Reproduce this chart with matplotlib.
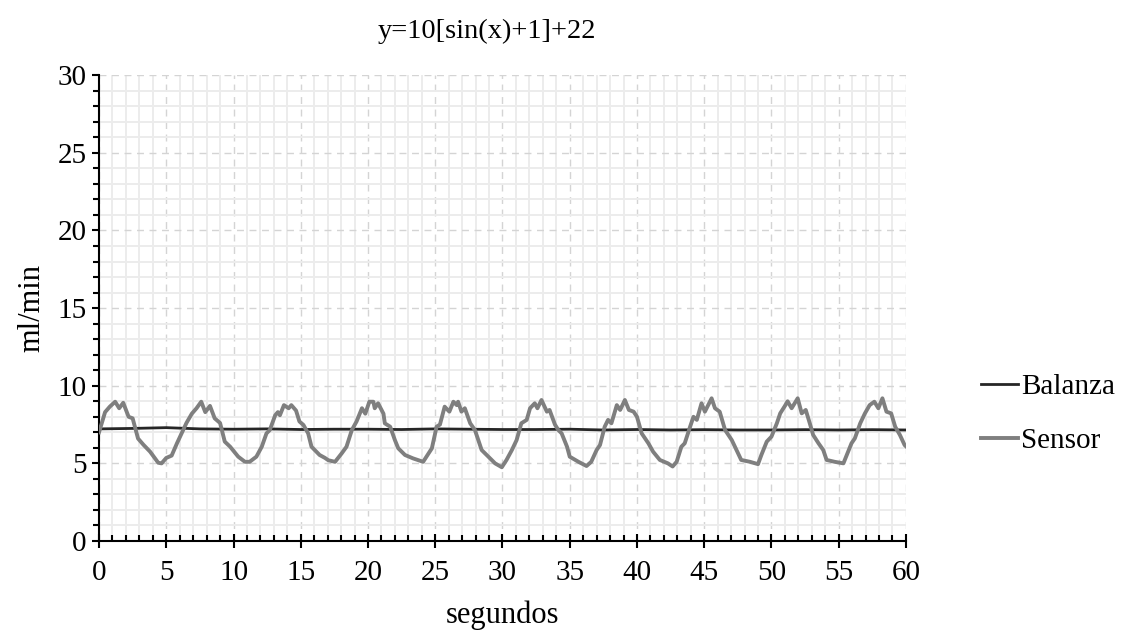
import matplotlib
matplotlib.use("Agg")
import matplotlib.pyplot as plt
from matplotlib.ticker import MultipleLocator

plt.rcParams['font.family'] = ['Liberation Serif', 'DejaVu Serif']

title = "y=10[sin(x)+1]+22"
x_label = "segundos"
y_label = "ml/min"

sensor_t = [0.0, 0.45, 0.8, 1.2, 1.5, 1.8, 2.2, 2.5, 2.9, 3.3, 3.8, 4.4, 4.65, 5.0, 5.4, 5.8,
            6.15, 6.5, 6.9, 7.25, 7.6, 7.9, 8.25, 8.6, 9.0, 9.35, 9.75, 10.35, 10.85, 11.2,
            11.7, 12.1, 12.45, 12.7, 13.1, 13.3, 13.45, 13.75, 14.1, 14.3, 14.65, 14.9, 15.2,
            15.55, 15.8, 16.4, 16.8, 17.05, 17.55, 18.05, 18.4, 18.8, 19.15, 19.55, 19.8, 20.1,
            20.4, 20.5, 20.75, 21.15, 21.25, 21.65, 22.0, 22.25, 22.75, 23.35, 24.1, 24.35,
            24.75, 25.1, 25.35, 25.7, 26.05, 26.35, 26.6, 26.7, 26.95, 27.2, 27.6, 27.95,
            28.45, 28.95, 29.45, 29.95, 30.3, 30.7, 31.05, 31.4, 31.8, 32.05, 32.4, 32.6,
            32.9, 33.3, 33.5, 33.9, 34.15, 34.4, 34.8, 35.0, 35.65, 36.25, 36.6, 37.0, 37.25,
            37.6, 37.85, 38.1, 38.5, 38.75, 39.1, 39.4, 39.75, 40.0, 40.35, 40.85, 41.2, 41.7,
            42.3, 42.65, 42.95, 43.3, 43.55, 43.95, 44.2, 44.45, 44.8, 45.05, 45.55, 45.8,
            46.15, 46.55, 47.05, 47.4, 47.75, 48.4, 49.0, 49.25, 49.65, 50.0, 50.4, 50.65,
            51.0, 51.2, 51.5, 51.95, 52.25, 52.55, 52.85, 53.1, 53.5, 53.85, 54.1, 54.7,
            55.35, 55.6, 55.95, 56.2, 56.6, 56.95, 57.3, 57.65, 57.95, 58.25, 58.55, 58.9,
            59.2, 59.55, 59.9, 60.0]
sensor_v = [7.0, 8.3, 8.65, 8.97, 8.55, 8.9, 8.0, 7.9, 6.6, 6.2, 5.75, 5.04, 5.0, 5.35, 5.5, 6.3,
            6.95, 7.6, 8.2, 8.55, 8.97, 8.3, 8.7, 7.9, 7.6, 6.4, 6.07, 5.43, 5.1, 5.1,
            5.43, 6.07, 6.93, 7.15, 8.1, 8.3, 8.1, 8.75, 8.55, 8.75, 8.4, 7.7, 7.47,
            6.93, 6.07, 5.54, 5.35, 5.2, 5.1, 5.65, 6.07, 7.15, 7.7, 8.55, 8.2, 8.97,
            8.97, 8.55, 8.87, 8.2, 7.58, 7.36, 6.5, 5.97, 5.54, 5.32, 5.1, 5.43,
            5.97, 7.36, 7.5, 8.65, 8.33, 8.97, 8.75, 8.97, 8.33, 8.55, 7.58, 7.15,
            5.86, 5.43, 5.0, 4.75, 5.22, 5.86, 6.5, 7.58, 7.8, 8.55, 8.87, 8.55,
            9.08, 8.33, 8.44, 7.5, 7.15, 6.93, 6.07, 5.43, 5.1, 4.83, 5.1, 5.86, 6.18,
            7.36, 7.8, 7.58, 8.75, 8.44, 9.08, 8.44, 8.33, 8.0, 6.93, 6.29, 5.75, 5.22,
            5.0, 4.8, 5.1, 6.07, 6.29, 7.36, 8.0, 7.8, 8.87, 8.33, 9.19, 8.55,
            8.33, 7.15, 6.5, 5.86, 5.22, 5.1, 4.95, 5.54, 6.4, 6.72, 7.58, 8.22,
            8.7, 9.0, 8.55, 9.19, 8.22, 8.44, 7.58, 6.83, 6.29, 5.86, 5.22, 5.1,
            5.0, 5.54, 6.29, 6.61, 7.58, 8.22, 8.75, 8.97, 8.55, 9.19, 8.33, 8.22,
            7.36, 6.83, 6.18, 6.1]

balanza_t = [0, 2.5, 5, 7.5, 10, 12.5, 15, 17.5, 20, 22.5, 25, 27.5, 30, 32.5, 35, 37.5,
             40, 42.5, 45, 47.5, 50, 52.5, 55, 57.5, 60]
balanza_v = [7.22, 7.25, 7.3, 7.22, 7.2, 7.22, 7.18, 7.2, 7.2, 7.18, 7.22, 7.2, 7.18, 7.18, 7.2,
             7.15, 7.18, 7.15, 7.17, 7.15, 7.15, 7.17, 7.15, 7.17, 7.15]

fig = plt.figure(figsize=(11.33, 6.32), dpi=100)
ax = fig.add_axes([0.0874, 0.144, 0.7122, 0.737])

ax.plot(balanza_t, balanza_v, color='#262626', lw=2.0, label='Balanza', zorder=3)
ax.plot(sensor_t, sensor_v, color='#7f7f7f', lw=2.8, label='Sensor', zorder=3,
        solid_joinstyle='round')

ax.set_xlim(0, 60)
ax.set_ylim(0, 30)
ax.xaxis.set_major_locator(MultipleLocator(5))
ax.xaxis.set_minor_locator(MultipleLocator(1))
ax.yaxis.set_major_locator(MultipleLocator(5))
ax.yaxis.set_minor_locator(MultipleLocator(1))

ax.grid(which='minor', color='#ececec', lw=1.4, ls='-', zorder=0)
ax.grid(which='major', color='#d4d4d4', lw=1.0, ls=(0, (5, 4)), zorder=1)
ax.set_axisbelow(True)

for s in ['top', 'right']:
    ax.spines[s].set_visible(False)
for s in ['left', 'bottom']:
    ax.spines[s].set_color('black')
    ax.spines[s].set_linewidth(1.5)

ax.tick_params(axis='x', which='major', direction='inout', length=10, width=1.5,
               labelsize=21, pad=9, colors='black')
ax.tick_params(axis='x', which='minor', direction='in', length=4.5, width=1.5)
ax.tick_params(axis='y', which='major', direction='out', length=5, width=1.5,
               labelsize=21, pad=4, colors='black')
ax.tick_params(axis='y', which='minor', direction='out', length=4.5, width=1.5)

ax.set_xlabel(x_label, fontsize=22, labelpad=10)
ax.set_ylabel(y_label, fontsize=22, labelpad=8)
fig.text(0.43, 0.95, title, ha='center', va='center', fontsize=20.5)

fig.legend(loc='center left', bbox_to_anchor=(0.843, 0.345), frameon=False,
           fontsize=21, handlelength=1.25, handletextpad=0.1, labelspacing=0.95)

fig.savefig('out.png', dpi=100)
